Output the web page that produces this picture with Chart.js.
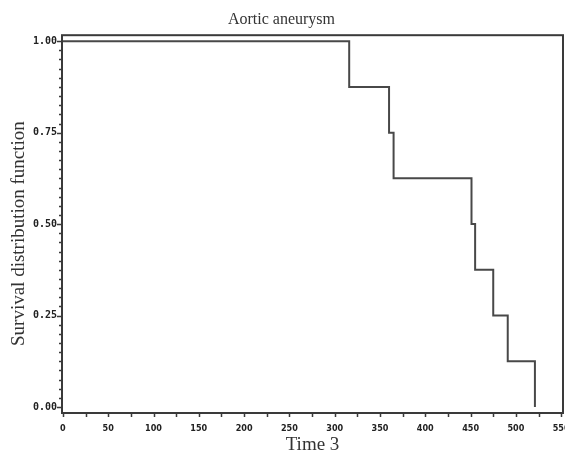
<!DOCTYPE html>
<html>
<head>
<meta charset="utf-8">
<script src="https://cdn.jsdelivr.net/npm/chart.js@4.4.1/dist/chart.umd.min.js"></script>
<style>
  html, body { margin: 0; padding: 0; background: #fff; }
  #wrap { width: 565px; height: 458px; }
</style>
</head>
<body>
<div id="wrap"><canvas id="km-chart"></canvas></div>
<script>
// Kaplan-Meier estimate: each event time and the survival value after it
const eventTimes = [0, 316, 360, 365, 451, 455, 475, 491, 521];
const survival = [1.0, 0.875, 0.75, 0.625, 0.5, 0.375, 0.25, 0.125, 0.0];

// axis ticks (labelled and minor)
const xMajorTicks = [0, 50, 100, 150, 200, 250, 300, 350, 400, 450, 500, 550];
const xMinorStep = 25;
const yMajorTicks = [0, 0.25, 0.5, 0.75, 1.0];
const yMinorStep = 0.025;

const frameColor = "#3a3a3a";
const serif = "Liberation Serif";

function buildTicks(majors, step) {
  const out = [];
  const last = majors[majors.length - 1];
  const n = Math.round((last - majors[0]) / step);
  for (let i = 0; i <= n; i++) {
    out.push({ value: Math.round((majors[0] + i * step) * 1000) / 1000 });
  }
  return out;
}

function isMajor(majors, v) {
  return majors.some((m) => Math.abs(m - v) < 1e-6);
}

// box around the plot area plus outward tick marks
const framePlugin = {
  id: "frame",
  afterDraw(chart) {
    const { ctx, chartArea: a, scales } = chart;
    ctx.save();
    ctx.strokeStyle = frameColor;
    ctx.lineWidth = 2;
    ctx.strokeRect(a.left, a.top, a.right - a.left, a.bottom - a.top);

    ctx.lineWidth = 1.5;
    ctx.beginPath();
    scales.y.ticks.forEach((t) => {
      const y = Math.round(scales.y.getPixelForValue(t.value)) + 0.5;
      const len = isMajor(yMajorTicks, t.value) ? 5 : 3;
      ctx.moveTo(a.left, y);
      ctx.lineTo(a.left - len, y);
    });
    scales.x.ticks.forEach((t) => {
      const x = Math.round(scales.x.getPixelForValue(t.value)) + 0.5;
      ctx.moveTo(x, a.bottom);
      ctx.lineTo(x, a.bottom + 4);
    });
    ctx.stroke();
    ctx.restore();
  },
};

const canvas = document.querySelector("#km-chart");

new Chart(canvas.getContext("2d"), {
  type: "line",
  data: {
    datasets: [
      {
        label: "Survival",
        data: eventTimes.map((t, i) => ({ x: t, y: survival[i] })),
        stepped: "before",
        borderColor: "#484848",
        borderWidth: 2,
        pointRadius: 0,
        fill: false,
      },
    ],
  },
  options: {
    responsive: true,
    maintainAspectRatio: false,
    animation: false,
    layout: { padding: { left: 0, right: 2, top: 0, bottom: 0 } },
    plugins: {
      legend: { display: false },
      tooltip: { enabled: false },
      title: {
        display: true,
        text: "Aortic aneurysm",
        color: "#333",
        font: { family: serif, size: 16, weight: "normal" },
        padding: { top: 10, bottom: 6 },
      },
    },
    scales: {
      x: {
        type: "linear",
        min: -1,
        max: 552,
        afterBuildTicks: (scale) => {
          scale.ticks = buildTicks(xMajorTicks, xMinorStep);
        },
        afterFit: (scale) => {
          scale.height = 45;
          scale.paddingLeft = 0;
          scale.paddingRight = 0;
        },
        border: { display: false },
        grid: { drawOnChartArea: false, drawTicks: false },
        ticks: {
          autoSkip: false,
          maxRotation: 0,
          padding: 10,
          color: "#222",
          font: { family: "'Liberation Sans Narrow', 'DejaVu Sans Condensed', sans-serif", size: 9, weight: "bold" },
          callback: (v) => (isMajor(xMajorTicks, v) ? String(v) : ""),
        },
        title: {
          display: true,
          text: "Time 3",
          color: "#333",
          font: { family: serif, size: 19 },
          padding: { top: 0, bottom: 2 },
        },
      },
      y: {
        type: "linear",
        min: -0.0164,
        max: 1.0164,
        afterBuildTicks: (scale) => {
          scale.ticks = buildTicks(yMajorTicks, yMinorStep);
        },
        afterFit: (scale) => {
          scale.width = 62;
          scale.paddingTop = 0;
          scale.paddingBottom = 0;
        },
        border: { display: false },
        grid: { drawOnChartArea: false, drawTicks: false },
        ticks: {
          autoSkip: false,
          padding: 5,
          color: "#222",
          font: { family: "DejaVu Sans Mono", size: 10, weight: "bold" },
          callback: (v) => (isMajor(yMajorTicks, v) ? v.toFixed(2) : ""),
        },
        title: {
          display: true,
          text: "Survival distribution function\u00a0\u00a0\u00a0\u00a0",
          color: "#333",
          font: { family: serif, size: 19 },
          padding: { top: 8, bottom: 0 },
        },
      },
    },
  },
  plugins: [framePlugin],
});
</script>
</body>
</html>
